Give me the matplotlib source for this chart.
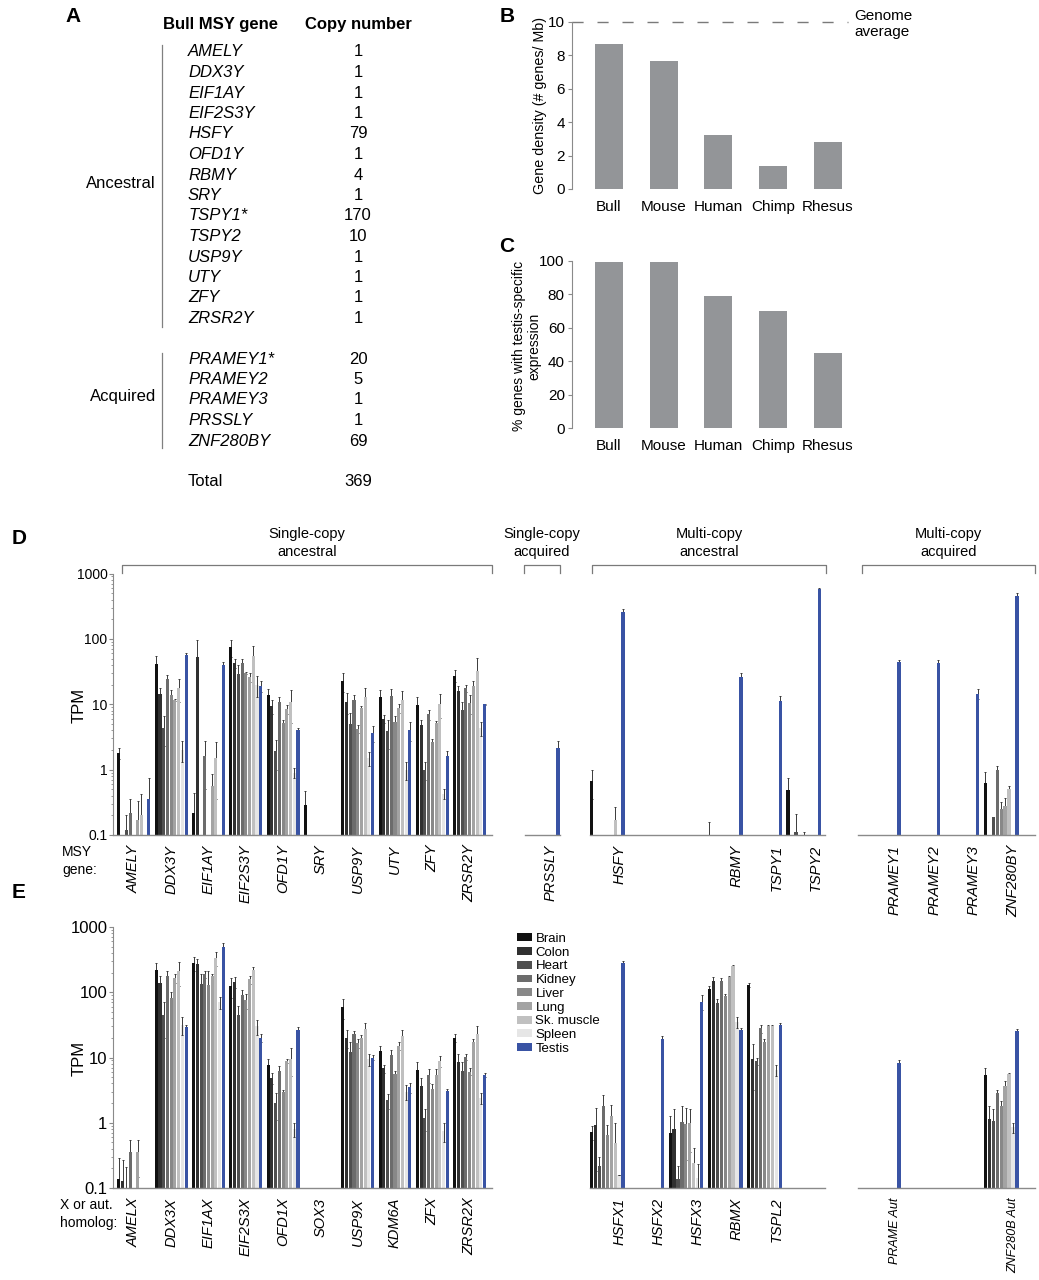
import numpy as np
import matplotlib
matplotlib.use('Agg')
import matplotlib.pyplot as plt
from matplotlib.patches import Patch
from matplotlib.lines import Line2D
import matplotlib.ticker as mticker

plt.rcParams['font.family'] = ['Liberation Sans', 'DejaVu Sans']

# ------------------------------------------------------------------ data
tissues = ['Brain', 'Colon', 'Heart', 'Kidney', 'Liver', 'Lung', 'Sk. muscle', 'Spleen', 'Testis']
tissue_colors = ['#111111', '#303030', '#4f4f4f', '#6c6c6c', '#888888', '#a3a3a3',
                 '#c0c0c0', '#e6e6e6', '#3953a4']

# Panel A
a_ancestral_genes = ['AMELY', 'DDX3Y', 'EIF1AY', 'EIF2S3Y', 'HSFY', 'OFD1Y', 'RBMY', 'SRY',
                     'TSPY1*', 'TSPY2', 'USP9Y', 'UTY', 'ZFY', 'ZRSR2Y']
a_ancestral_copies = [1, 1, 1, 1, 79, 1, 4, 1, 170, 10, 1, 1, 1, 1]
a_acquired_genes = ['PRAMEY1*', 'PRAMEY2', 'PRAMEY3', 'PRSSLY', 'ZNF280BY']
a_acquired_copies = [20, 5, 1, 1, 69]
a_total = 369

# Panels B, C
species = ['Bull', 'Mouse', 'Human', 'Chimp', 'Rhesus']
gene_density = [8.67, 7.67, 3.22, 1.39, 2.78]
genome_average = 10
pct_testis_specific = [99.2, 99.2, 79.1, 70.2, 45.1]

tpm_ticks = [0.1, 1, 10, 100, 1000]
tpm_tick_labels = ['0.1', '1', '10', '100', '1000']

# Panel D (MSY genes): TPM per tissue (Brain..Testis) and error
d_sc_anc_genes = ['AMELY', 'DDX3Y', 'EIF1AY', 'EIF2S3Y', 'OFD1Y', 'SRY', 'USP9Y', 'UTY', 'ZFY', 'ZRSR2Y']
d_sc_anc_tpm = [
    [1.8, 0, 0.12, 0.22, 0, 0.17, 0.2, 0, 0.36],
    [41, 14.4, 4.4, 24.6, 14, 11.7, 17.7, 2.0, 56],
    [0.22, 53, 0, 1.6, 0, 0.57, 1.5, 0, 40],
    [75, 43, 29, 43, 30, 26, 54, 20, 19],
    [14, 9.3, 1.9, 10.7, 5.2, 8.5, 10.9, 0.9, 4.0],
    [0.29, 0, 0, 0, 0, 0, 0, 0, 0],
    [22.6, 11, 5.0, 11.7, 4.2, 8.9, 12.7, 1.5, 3.6],
    [13, 6, 3.9, 13.5, 5.4, 8.7, 11.5, 1.0, 4.0],
    [9.6, 4.9, 1.0, 7, 2.6, 5.1, 10.2, 0.43, 1.6],
    [27.5, 15.8, 8.3, 17.6, 10.5, 19.3, 32.5, 4.3, 10],
]
d_sc_anc_err = [
    [0.35, 0, 0.08, 0.13, 0, 0.16, 0.22, 0, 0.38],
    [14, 3.3, 2.1, 3.4, 2.7, 0.5, 6.9, 0.7, 4],
    [0.22, 44, 0, 1.1, 0, 0.3, 1.15, 0, 4],
    [22, 7, 11, 7, 1, 4, 25, 7, 3.5],
    [3, 2.2, 0.9, 2.2, 0.6, 1.3, 5.8, 0.15, 0.4],
    [0.18, 0, 0, 0, 0, 0, 0, 0, 0],
    [7.4, 4, 2.3, 2.3, 0.6, 0.4, 5.3, 0.35, 1.0],
    [3.7, 0.9, 1.8, 3.5, 1.1, 1.3, 4.5, 0.3, 1.3],
    [3.4, 0.9, 0.3, 1.2, 0.3, 0.5, 4.1, 0.07, 0.3],
    [5.5, 3.2, 2.7, 2.3, 3.5, 3.7, 18.5, 1.0, 0.2],
]
d_sc_acq_genes = ['PRSSLY']
d_sc_acq_tpm = [[0, 0, 0, 0, 0, 0, 0, 0, 2.15]]
d_sc_acq_err = [[0, 0, 0, 0, 0, 0, 0, 0, 0.55]]

d_mc_anc_genes = ['HSFY', 'RBMY', 'TSPY1', 'TSPY2']
d_mc_anc_tpm = [
    [0.68, 0, 0, 0, 0, 0, 0.17, 0, 257],
    [0.1, 0, 0, 0, 0, 0, 0, 0, 26],
    [0, 0, 0, 0, 0, 0, 0, 0, 11.1],
    [0.49, 0, 0.11, 0, 0.1, 0, 0, 0, 570],
]
d_mc_anc_err = [
    [0.32, 0, 0, 0, 0, 0, 0.1, 0, 33],
    [0.06, 0, 0, 0, 0, 0, 0, 0, 4],
    [0, 0, 0, 0, 0, 0, 0, 0, 2.4],
    [0.26, 0, 0.1, 0, 0.01, 0, 0, 0, 30],
]
d_mc_acq_genes = ['PRAMEY1', 'PRAMEY2', 'PRAMEY3', 'ZNF280BY']
d_mc_acq_tpm = [
    [0, 0, 0, 0, 0, 0, 0, 0, 44],
    [0, 0, 0, 0, 0, 0, 0, 0, 43],
    [0, 0, 0, 0, 0, 0, 0, 0, 14.6],
    [0.62, 0, 0.19, 1.0, 0.25, 0.28, 0.5, 0, 450],
]
d_mc_acq_err = [
    [0, 0, 0, 0, 0, 0, 0, 0, 4],
    [0, 0, 0, 0, 0, 0, 0, 0, 5],
    [0, 0, 0, 0, 0, 0, 0, 0, 2.4],
    [0.29, 0, 0, 0.12, 0.07, 0.09, 0.06, 0, 50],
]

# Panel E (X or autosomal homologs)
e_sc_genes = ['AMELX', 'DDX3X', 'EIF1AX', 'EIF2S3X', 'OFD1X', 'SOX3', 'USP9X', 'KDM6A', 'ZFX', 'ZRSR2X']
e_sc_tpm = [
    [0.138, 0.13, 0.1, 0.35, 0, 0.35, 0, 0, 0],
    [220, 139, 45, 177, 83, 165, 208, 32, 29],
    [280, 275, 135, 190, 130, 180, 333, 70, 490],
    [124, 145, 45, 91, 75, 157, 220, 30, 20],
    [7.8, 4.8, 2.0, 6.3, 3.0, 8.8, 9.6, 0.8, 26],
    [0, 0, 0, 0, 0, 0, 0, 0, 0],
    [59, 20, 12, 22.6, 16.4, 20, 27, 9.5, 10],
    [12.5, 6.8, 2.2, 11, 5.5, 15.2, 21, 3.0, 3.5],
    [6.5, 3.7, 1.2, 5.35, 3.25, 5.4, 8.9, 0.75, 3.1],
    [20, 8.4, 6.2, 10.2, 6.1, 17, 23, 2.4, 5.4],
]
e_sc_err = [
    [0.15, 0.14, 0.11, 0.19, 0, 0.2, 0, 0, 0],
    [60, 41, 25, 31, 17, 25, 82, 10, 2],
    [70, 50, 55, 25, 80, 10, 77, 14, 85],
    [41, 28, 17, 17, 20, 23, 20, 8, 3],
    [1.6, 0.9, 0.9, 1.1, 0.2, 0.6, 4.4, 0.2, 3],
    [0, 0, 0, 0, 0, 0, 0, 0, 0],
    [20, 6, 5, 3, 2.6, 2, 7, 2, 1],
    [2.3, 1, 0.6, 2, 0.8, 2, 5, 0.8, 0.6],
    [1.9, 1.1, 0.44, 1.25, 0.65, 1.2, 1.7, 0.25, 0.15],
    [3, 3.1, 2.2, 1, 0.8, 2, 7, 0.45, 0.3],
]
e_mc_anc_genes = ['HSFX1', 'HSFX2', 'HSFX3', 'RBMX', 'TSPL2']
e_mc_anc_tpm = [
    [0.72, 0.94, 0.22, 1.8, 0.64, 1.27, 0.49, 0.16, 280],
    [0, 0, 0, 0, 0, 0, 0, 0, 19],
    [0.69, 0.81, 0.137, 1.03, 0.97, 1.0, 0.24, 0.14, 72],
    [112, 150, 68, 150, 87, 170, 250, 35, 26.7],
    [130, 9.6, 8.9, 28, 17.4, 30.7, 30.7, 6.5, 31.5],
]
e_mc_anc_err = [
    [0.17, 0.76, 0.08, 0.9, 0.3, 0.6, 0.51, 0, 25],
    [0, 0, 0, 0, 0, 0, 0, 0, 2.5],
    [0.6, 0.83, 0.08, 0.77, 0.7, 0.64, 0.17, 0.09, 19],
    [14, 20, 11, 15, 8, 10, 12, 7, 1.5],
    [9, 6.4, 1.1, 4, 1.6, 1.3, 1.3, 1.3, 2.5],
]
e_mc_acq_genes = ['PRAME Aut', 'ZNF280B Aut']
e_mc_acq_tpm = [
    [0, 0, 0, 0, 0, 0, 0, 0, 8.2],
    [5.4, 1.15, 1.06, 2.9, 1.8, 3.7, 5.5, 0.85, 25.7],
]
e_mc_acq_err = [
    [0, 0, 0, 0, 0, 0, 0, 0, 1.0],
    [1.6, 0.65, 0.54, 0.3, 0.35, 0.7, 0.2, 0.15, 1.3],
]

group_titles = ['Single-copy\nancestral', 'Single-copy\nacquired', 'Multi-copy\nancestral', 'Multi-copy\nacquired']

# ------------------------------------------------------------------ layout
W, H = 1039, 1280
fig = plt.figure(figsize=(W / 100, H / 100), dpi=100)
fig.patch.set_facecolor('white')

SPINE = '#8a8a8a'
ERRC = '#3a3a3a'


def px_ax(x0, y0, x1, y1):
    return fig.add_axes([x0 / W, 1 - y1 / H, (x1 - x0) / W, (y1 - y0) / H])


def ftext(x, y, s, **kw):
    return fig.text(x / W, 1 - y / H, s, **kw)


def fline(xs, ys, **kw):
    fig.add_artist(Line2D([x / W for x in xs], [1 - y / H for y in ys], **kw))


# ---------------- Panel A
ftext(73, 16, 'A', fontsize=15, fontweight='bold', ha='center', va='center')
ftext(163, 24, 'Bull MSY gene', fontsize=12, fontweight='bold', ha='left', va='center')
ftext(305, 24, 'Copy number', fontsize=12, fontweight='bold', ha='left', va='center')
row_h = 20.5
for i, (g, c) in enumerate(zip(a_ancestral_genes, a_ancestral_copies)):
    y = 52 + row_h * i
    ftext(188, y, g, fontsize=12, fontstyle='italic', ha='left', va='center')
    ftext(358, y, str(c), fontsize=12, ha='center', va='center')
for i, (g, c) in enumerate(zip(a_acquired_genes, a_acquired_copies)):
    y = 359 + row_h * i
    ftext(188, y, g, fontsize=12, fontstyle='italic', ha='left', va='center')
    ftext(358, y, str(c), fontsize=12, ha='center', va='center')
fline([162, 162], [45, 327], color='#808080', lw=0.9)
fline([162, 162], [353, 448], color='#808080', lw=0.9)
ftext(156, 184, 'Ancestral', fontsize=12, ha='right', va='center')
ftext(156, 397, 'Acquired', fontsize=12, ha='right', va='center')
ftext(188, 482, 'Total', fontsize=12, ha='left', va='center')
ftext(358, 482, str(a_total), fontsize=12, ha='center', va='center')


# ---------------- Panels B, C
def species_bar_axes(y_top, y_bot, values, ymax, yticks):
    ax = px_ax(571.7, y_top, 848, y_bot)
    x = np.arange(len(species))
    ax.bar(x, values, width=0.51, color='#939598', linewidth=0)
    ax.set_xlim(-0.68, 4.37)
    ax.set_ylim(0, ymax)
    ax.set_yticks(yticks)
    ax.set_xticks(x, species)
    for s in ['top', 'right', 'bottom']:
        ax.spines[s].set_visible(False)
    ax.spines['left'].set_color(SPINE)
    ax.spines['left'].set_linewidth(0.8)
    ax.tick_params(axis='x', length=0, labelsize=11, pad=8)
    ax.tick_params(axis='y', length=3, color=SPINE, labelsize=11, pad=2)
    return ax


axB = species_bar_axes(21.7, 189, gene_density, 10, [0, 2, 4, 6, 8, 10])
axB.axhline(genome_average, xmin=0, xmax=1, color='#7a7a7a', lw=1.0, dashes=(8, 10), clip_on=False)
ftext(854, 24, 'Genome\naverage', fontsize=11, ha='left', va='center', linespacing=1.15)
ftext(540, 105, 'Gene density (# genes/ Mb)', fontsize=10.3, rotation=90, ha='center', va='center')
ftext(507, 16, 'B', fontsize=15, fontweight='bold', ha='center', va='center')

axC = species_bar_axes(261, 428, pct_testis_specific, 100, [0, 20, 40, 60, 80, 100])
ftext(527, 346, '% genes with testis-specific\nexpression', fontsize=10, rotation=90,
      ha='center', va='center', linespacing=1.1)
ftext(507, 247, 'C', fontsize=15, fontweight='bold', ha='center', va='center')


# ---------------- Panels D, E
def tpm_group(x0, x1, y0, y1, xlim, genes, tpm, err, slots, label_off, first=False,
              tick_fs=10, label_fs=10.5):
    ax = px_ax(x0, y0, x1, y1)
    tpm = np.asarray(tpm, float)
    err = np.asarray(err, float)
    slots = np.asarray(slots)
    for j in range(len(tissues)):
        xs = slots * 10 + j
        v = tpm[:, j]
        ax.bar(xs, v, width=0.82, color=tissue_colors[j], linewidth=0,
               zorder=2 if j == 7 else 3)
        m = v > 0
        if m.any():
            ax.errorbar(xs[m], v[m], yerr=err[m, j], fmt='none', ecolor=ERRC,
                        elinewidth=0.7, capsize=0.9, capthick=0.7, zorder=2.5)
    ax.set_yscale('log')
    ax.set_ylim(0.1, 1000)
    ax.set_xlim(*xlim)
    ax.set_xticks(slots * 10 + label_off, genes)
    for lab in ax.get_xticklabels():
        lab.set_rotation(90)
        lab.set_fontstyle('italic')
        lab.set_fontsize(label_fs)
    ax.tick_params(axis='x', length=0, pad=7)
    for s in ['top', 'right']:
        ax.spines[s].set_visible(False)
    ax.spines['bottom'].set_color(SPINE)
    ax.spines['bottom'].set_linewidth(1.0)
    ax.spines['bottom'].set_zorder(4)
    if first:
        ax.spines['left'].set_color(SPINE)
        ax.spines['left'].set_linewidth(0.8)
        ax.yaxis.set_major_locator(mticker.FixedLocator(tpm_ticks))
        ax.yaxis.set_major_formatter(mticker.FixedFormatter(tpm_tick_labels))
        ax.yaxis.set_minor_locator(mticker.LogLocator(base=10, subs=np.arange(2, 10)))
        ax.yaxis.set_minor_formatter(mticker.NullFormatter())
        ax.tick_params(axis='y', which='major', length=3, color=SPINE, labelsize=tick_fs, pad=1)
        ax.tick_params(axis='y', which='minor', length=1.5, color=SPINE)
    else:
        ax.spines['left'].set_visible(False)
        ax.tick_params(axis='y', which='both', left=False, labelleft=False)
    return ax


# Panel D
dy0, dy1 = 573.5, 835
tpm_group(113, 492, dy0, dy1, (-1.6, 100), d_sc_anc_genes, d_sc_anc_tpm, d_sc_anc_err,
          list(range(10)), 4, first=True, tick_fs=10)
tpm_group(525, 560, dy0, dy1, (-0.4, 8.5), d_sc_acq_genes, d_sc_acq_tpm, d_sc_acq_err,
          [0], 6)
tpm_group(590, 825, dy0, dy1, (-0.4, 59.4), d_mc_anc_genes, d_mc_anc_tpm, d_mc_anc_err,
          [0, 3, 4, 5], 7)
tpm_group(858, 1035, dy0, dy1, (-2.4, 42.6), d_mc_acq_genes, d_mc_acq_tpm, d_mc_acq_err,
          [0, 1, 2, 3], 7)
ftext(12, 538, 'D', fontsize=15, fontweight='bold', ha='left', va='center')
ftext(79, 705, 'TPM', fontsize=12, rotation=90, ha='center', va='center')
ftext(62, 861, 'MSY\ngene:', fontsize=10, ha='left', va='center', linespacing=1.45)

brackets = [(122, 492), (524, 560), (592, 826), (862, 1035)]
for (bx0, bx1), title in zip(brackets, group_titles):
    fline([bx0, bx0, bx1, bx1], [573, 565, 565, 573], color='#7a7a7a', lw=0.9)
    ftext((bx0 + bx1) / 2, 543, title, fontsize=10.5, ha='center', va='center', linespacing=1.3)

# Panel E
ey0, ey1 = 927, 1188
tpm_group(113, 492, ey0, ey1, (-1.6, 100), e_sc_genes, e_sc_tpm, e_sc_err,
          list(range(10)), 4, first=True, tick_fs=12)
tpm_group(590, 825, ey0, ey1, (-0.4, 59.4), e_mc_anc_genes, e_mc_anc_tpm, e_mc_anc_err,
          [0, 1, 2, 3, 4], 7)
tpm_group(858, 1035, ey0, ey1, (-2.4, 42.6), e_mc_acq_genes, e_mc_acq_tpm, e_mc_acq_err,
          [0, 3], 7, label_fs=9)
ftext(12, 892, 'E', fontsize=15, fontweight='bold', ha='left', va='center')
ftext(79, 1058, 'TPM', fontsize=12, rotation=90, ha='center', va='center')
ftext(60, 1214, 'X or aut.\nhomolog:', fontsize=10, ha='left', va='center', linespacing=1.45)

handles = [Patch(facecolor=c, edgecolor='none') for c in tissue_colors]
fig.legend(handles, tissues, loc='upper left', bbox_to_anchor=(517 / W, 1 - 933 / H),
           frameon=False, fontsize=9.5, handlelength=1.1, handleheight=0.55,
           labelspacing=0.13, handletextpad=0.3, borderaxespad=0, borderpad=0)

fig.savefig('out.png', dpi=100, facecolor='white')
